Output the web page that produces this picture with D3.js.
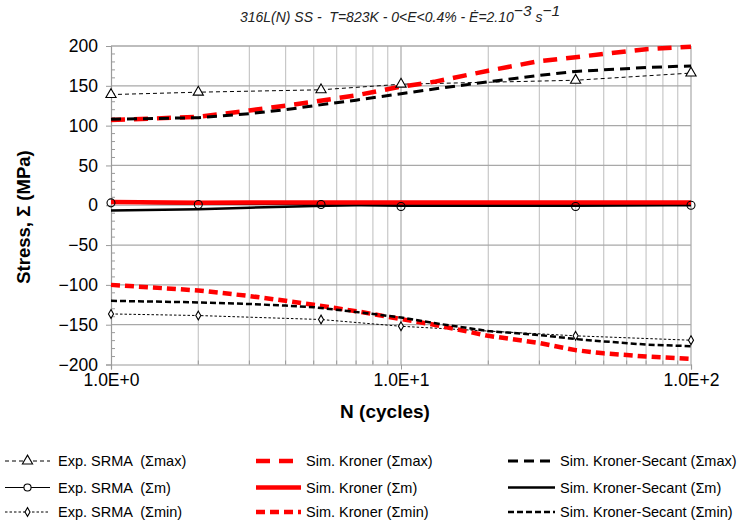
<!DOCTYPE html>
<html><head><meta charset="utf-8">
<script src="https://cdn.jsdelivr.net/npm/d3@7"></script>
<style>body{margin:0;background:#fff}svg{display:block}text{font-family:"Liberation Sans",Arial,sans-serif;white-space:pre}</style>
</head><body><svg id="c" width="740" height="524"></svg>
<script>
// ---- data ----
const expN = [1, 2, 5.3, 10, 40, 100];
const expMax = [139, 142, 145, 152, 157, 166];
const expMean = [3, 1, 1, -1.5, -1.5, 0];
const expMin = [-136.5, -138.5, -143.5, -152, -164, -169.5];
const simN = [1, 2, 3, 4, 5, 7, 10, 13, 20, 30, 40, 50, 70, 100];
const kronerMax = [107, 111, 119, 125, 130, 138, 149, 155, 169, 181, 186, 190, 196, 199];
const kronerMean = [4, 3, 3.5, 3.5, 3.5, 3.5, 3.5, 3.5, 3.5, 3.5, 3.5, 3.5, 3.5, 3.5];
const kronerMin = [-100, -107, -114, -120, -125, -133, -143, -150, -164, -173, -182, -186, -190, -193];
const secantMax = [108, 110, 115, 120, 125, 132, 140, 146, 155, 163, 168, 170, 173, 175];
const secantMean = [-6.5, -5, -3, -2, -1, 0, 0, 0, 0, 0, 0, 0, 0, 0];
const secantMin = [-120, -122, -124, -126, -128, -134, -141, -148, -158, -163, -168, -171, -175, -177];
const yTicks = [-200, -150, -100, -50, 0, 50, 100, 150, 200];
const xTicks = [1, 10, 100];
const xTickLabels = ["1.0E+0", "1.0E+1", "1.0E+2"];
const legendLabels = [
  ["Exp. SRMA  (Σmax)", "Sim. Kroner (Σmax)", "Sim. Kroner-Secant (Σmax)"],
  ["Exp. SRMA  (Σm)", "Sim. Kroner (Σm)", "Sim. Kroner-Secant (Σm)"],
  ["Exp. SRMA  (Σmin)", "Sim. Kroner (Σmin)", "Sim. Kroner-Secant (Σmin)"]
];

const svg = d3.select("#c");
const x = d3.scaleLog().domain([1, 100]).range([111, 691]);
const y = d3.scaleLinear().domain([-200, 200]).range([364.5, 46]);

// grid
const minor = [];
for (let d = 1; d < 100; d *= 10) for (let k = 2; k <= 9; k++) minor.push(d * k);
const g = svg.append("g");
g.selectAll(".mv").data(minor).join("line")
  .attr("x1", d => x(d)).attr("x2", d => x(d)).attr("y1", y(200)).attr("y2", y(-200))
  .attr("stroke", "#c8c8c8").attr("stroke-width", 1.2);
g.selectAll(".Mv").data([10, 100]).join("line")
  .attr("x1", d => x(d)).attr("x2", d => x(d)).attr("y1", y(200)).attr("y2", y(-200))
  .attr("stroke", "#a8a8a8").attr("stroke-width", 1.2);
g.selectAll(".h").data(yTicks.filter(v => v > -200)).join("line")
  .attr("x1", x(1)).attr("x2", x(100)).attr("y1", d => y(d)).attr("y2", d => y(d))
  .attr("stroke", "#a8a8a8").attr("stroke-width", 1.2);

// axes
const yAxis = d3.axisLeft(y).tickValues(yTicks).tickSize(5).tickFormat(d3.format("d"));
const ya = svg.append("g").attr("transform", `translate(${x(1)},0)`).call(yAxis);
ya.select(".domain").attr("stroke", "#9a9a9a").attr("stroke-width", 1.2);
ya.selectAll(".tick line").attr("stroke", "#9a9a9a");
ya.selectAll(".tick text").attr("font-size", 17.5).attr("fill", "#000").attr("x", -13).attr("font-family", "Liberation Sans, Arial");
const yMinor = d3.range(-200, 201, 10).filter(v => v % 50 !== 0);
svg.append("g").selectAll("line").data(yMinor).join("line")
  .attr("x1", x(1)).attr("x2", x(1) + 4).attr("y1", d => y(d)).attr("y2", d => y(d))
  .attr("stroke", "#9a9a9a");

const xAxis = d3.axisBottom(x).tickValues(xTicks).tickSize(5).tickFormat((d, i) => xTickLabels[i]);
const xa = svg.append("g").attr("transform", `translate(0,${y(-200)})`).call(xAxis);
xa.select(".domain").attr("stroke", "#9a9a9a").attr("stroke-width", 1.2);
xa.selectAll(".tick line").attr("stroke", "#9a9a9a");
xa.selectAll(".tick text").attr("font-size", 17.5).attr("fill", "#000").attr("y", 9).attr("font-family", "Liberation Sans, Arial");
svg.append("g").selectAll("line").data(minor).join("line")
  .attr("x1", d => x(d)).attr("x2", d => x(d)).attr("y1", y(-200)).attr("y2", y(-200) - 4)
  .attr("stroke", "#9a9a9a");
// top border
svg.append("line").attr("x1", x(1)).attr("x2", x(100)).attr("y1", y(200)).attr("y2", y(200))
  .attr("stroke", "#a8a8a8").attr("stroke-width", 1.2);

// titles
svg.append("text").attr("x", 385).attr("y", 418).attr("text-anchor", "middle")
  .attr("font-weight", "bold").attr("font-size", 19).text("N (cycles)");
svg.append("text").attr("transform", "translate(30,217) rotate(-90)").attr("text-anchor", "middle")
  .attr("font-weight", "bold").attr("font-size", 18.5).text("Stress, Σ (MPa)");
const t = svg.append("text").attr("x", 400).attr("y", 22).attr("text-anchor", "middle")
  .attr("font-style", "italic").attr("font-size", 14).attr("fill", "#222");
t.append("tspan").text("316L(N) SS -  T=823K - 0<E<0.4% - Ė=2.10");
t.append("tspan").attr("dy", -6).attr("font-size", 15.5).text("−3");
t.append("tspan").attr("dy", 6).text(" s");
t.append("tspan").attr("dy", -6).attr("font-size", 15.5).text("−1");

// series
const line = d3.line().x(d => x(d[0])).y(d => y(d[1]));
const zip = (a, b) => a.map((v, i) => [v, b[i]]);
const styles = {
  expMax: {stroke: "#000", w: 1, dash: "4,3"},
  expMean: {stroke: "#000", w: 1.2, dash: null},
  expMin: {stroke: "#000", w: 1, dash: "2.5,2"},
  krMax: {stroke: "#ff0000", w: 4.5, dash: "14,9"},
  krMean: {stroke: "#ff0000", w: 4.5, dash: null},
  krMin: {stroke: "#ff0000", w: 4.5, dash: "9,5"},
  seMax: {stroke: "#000", w: 3, dash: "10,6"},
  seMean: {stroke: "#000", w: 2.5, dash: null},
  seMin: {stroke: "#000", w: 2.5, dash: "6,3"}
};
function drawLine(data, s) {
  svg.append("path").attr("d", line(data)).attr("fill", "none")
    .attr("stroke", s.stroke).attr("stroke-width", s.w)
    .attr("stroke-dasharray", s.dash).attr("stroke-linejoin", "round");
}
const series = [
  [zip(expN, expMax), styles.expMax],
  [zip(expN, expMean), styles.expMean],
  [zip(expN, expMin), styles.expMin],
  [zip(simN, secantMean), styles.seMean],
  [zip(simN, kronerMean), styles.krMean],
  [zip(simN, kronerMax), styles.krMax],
  [zip(simN, kronerMin), styles.krMin],
  [zip(simN, secantMax), styles.seMax],
  [zip(simN, secantMin), styles.seMin]
];
series.forEach(([d, s]) => drawLine(d, s));

const tri = d3.symbol().type(d3.symbolTriangle).size(45);
const dia = d3.symbol().type(d3.symbolDiamond).size(22);
function markers(data, kind) {
  const sel = svg.append("g").selectAll("path").data(data).join("path")
    .attr("transform", d => `translate(${x(d[0])},${y(d[1])})`)
    .attr("fill", "#fff").attr("stroke", "#000").attr("stroke-width", 1.1);
  if (kind === "tri") sel.attr("d", tri);
  else if (kind === "dia") sel.attr("d", dia);
  else sel.attr("d", d3.symbol().type(d3.symbolCircle).size(50)).attr("fill", "none");
}
markers(zip(expN, expMax), "tri");
markers(zip(expN, expMean), "circ");
markers(zip(expN, expMin), "dia");

// legend
const colX = [5, 256, 508];
const colW = [45, 45, 47];
const rowY = [461, 487.5, 512];
const legStyles = [
  [styles.expMax, styles.krMax, styles.seMax],
  [styles.expMean, styles.krMean, styles.seMean],
  [styles.expMin, styles.krMin, styles.seMin]
];
const legMarks = ["tri", "circ", "dia"];
const leg = svg.append("g");
for (let r = 0; r < 3; r++) for (let c = 0; c < 3; c++) {
  const s = legStyles[r][c];
  leg.append("line").attr("x1", colX[c]).attr("x2", colX[c] + colW[c]).attr("y1", rowY[r]).attr("y2", rowY[r])
    .attr("stroke", s.stroke).attr("stroke-width", s.w).attr("stroke-dasharray", s.dash);
  if (c === 0) {
    const m = leg.append("path").attr("transform", `translate(${colX[0] + colW[0] / 2},${rowY[r]})`)
      .attr("stroke", "#000").attr("fill", "#fff").attr("stroke-width", 1.1);
    if (legMarks[r] === "tri") m.attr("d", tri);
    else if (legMarks[r] === "dia") m.attr("d", dia);
    else m.attr("d", d3.symbol().type(d3.symbolCircle).size(40));
  }
  leg.append("text").attr("x", colX[c] + colW[c] + (c === 0 ? 8 : 5)).attr("y", rowY[r] + 5)
    .attr("font-size", 14.5).text(legendLabels[r][c]);
}
</script></body></html>
